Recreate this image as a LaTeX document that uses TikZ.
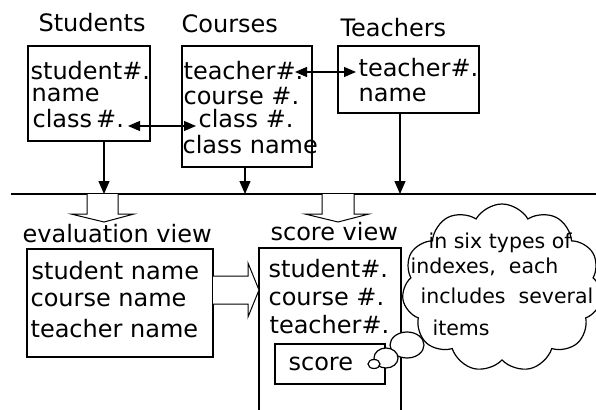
\documentclass[tikz,border=0pt]{standalone}
\usepackage{fontspec}
\setmainfont{DejaVu Sans}
\usetikzlibrary{arrows.meta,shapes.symbols}
\begin{document}
\begin{tikzpicture}[x=1pt,y=-1pt,line width=1.2pt,
  box/.style={draw,minimum width=#1,inner sep=0pt},
  txt/.style={anchor=base west,inner sep=0pt,font=\fontsize{24}{28}\selectfont},
  ctxt/.style={anchor=base west,inner sep=0pt,font=\fontsize{20.5}{24}\selectfont},
  downarr/.style={-{Triangle[length=13pt,width=11pt]}},
  dblarr/.style={{Triangle[length=12pt,width=10pt]}-{Triangle[length=12pt,width=10pt]}},
  hollow/.style={draw,fill=white,line width=1pt}]
\useasboundingbox (0,0) rectangle (596,409);
\clip (0,0) rectangle (596,409);
% titles
\node[txt] (tStu) at (38,32) {Students};
\node[txt] (tCou) at (181,33) {Courses};
\node[txt] (tTea) at (340,37) {Teachers};
% boxes
\node[box=122pt,minimum height=95pt] (stu) at (89,93.5) {};
\node[box=130pt,minimum height=121pt] (cou) at (247,106.5) {};
\node[box=141pt,minimum height=67pt] (tea) at (408.5,79.5) {};
% students text
\node[txt] (s1) at (30,80) {student\#.};
\node[txt] (s2) at (31,102) {name};
\node[txt] (s3) at (32,128) {class\,\#.};
% courses text
\node[txt] (c1) at (183,80) {teacher\#.};
\node[txt] (c2) at (183,104) {course \#.};
\node[txt] (c3) at (198,128) {class \#.};
\node[txt] (c4) at (182,153) {class name};
% teachers text
\node[txt] (t1) at (358,77) {teacher\#.};
\node[txt] (t2) at (358,102) {name};
% connectors between tables
\coordinate (a1) at (128,126);
\coordinate (a2) at (196,126);
\draw[dblarr] (a1) -- (a2);
\coordinate (b1) at (295,72);
\coordinate (b2) at (356,72);
\draw[dblarr] (b1) -- (b2);
% horizontal line
\coordinate (L) at (11,194);
\coordinate (R) at (600,194);
\draw (L) -- (R);
\coordinate (sd) at (104,194);
\draw[downarr] (stu.south -| sd) -- (sd);
\draw[downarr] (cou.south -| 245,0) -- (245,194);
\draw[downarr] (tea.south -| 400,0) -- (400,194);
% hollow down arrows
\draw[hollow] (87,194) -- (87,214) -- (71,214) -- (104,222) -- (134,214) -- (118,214) -- (118,194);
\draw[hollow] (322,194) -- (322,214) -- (305,214) -- (338,222) -- (369,214) -- (354,214) -- (354,194);
% views
\node[txt] (eLab) at (22,242) {evaluation view};
\node[txt] (sLab) at (270,240) {score view};
\node[box=186pt,minimum height=108pt] (ev) at (120,303) {};
\node[box=142pt,minimum height=182pt] (sv) at (330,339) {};
\node[txt] (e1) at (31,279) {student name};
\node[txt] (e2) at (30,306) {course name};
\node[txt] (e3) at (30,337) {teacher name};
\node[txt] (v1) at (268,277) {student\#.};
\node[txt] (v2) at (268,305) {course \#.};
\node[txt] (v3) at (269,333) {teacher\#.};
\node[box=110pt,minimum height=40pt] (sc) at (330,364) {};
\node[txt] (sct) at (288,370) {score};
% hollow right arrow
\draw[hollow] (213,276) -- (248,276) -- (248,263) -- (259,290) -- (248,317) -- (248,304) -- (213,304);
% cloud
\node[cloud,draw,cloud puffs=11,cloud puff arc=120,aspect=1.2,minimum width=200pt,minimum height=168pt,fill=white] (cl) at (502,288) {};
\draw[fill=white] (407,345) ellipse [x radius=17,y radius=13];
\draw[fill=white] (386,358) ellipse [x radius=12,y radius=10];
\draw[fill=white] (374,364) ellipse [x radius=6,y radius=4.5];
\node[ctxt] (k1) at (428,248) {in six types of};
\node[ctxt] (k2) at (410,273) {indexes,\ \ each};
\node[ctxt] (k3) at (420,303) {includes\ \ several};
\node[ctxt] (k4) at (432,335) {items};
\end{tikzpicture}
\end{document}
